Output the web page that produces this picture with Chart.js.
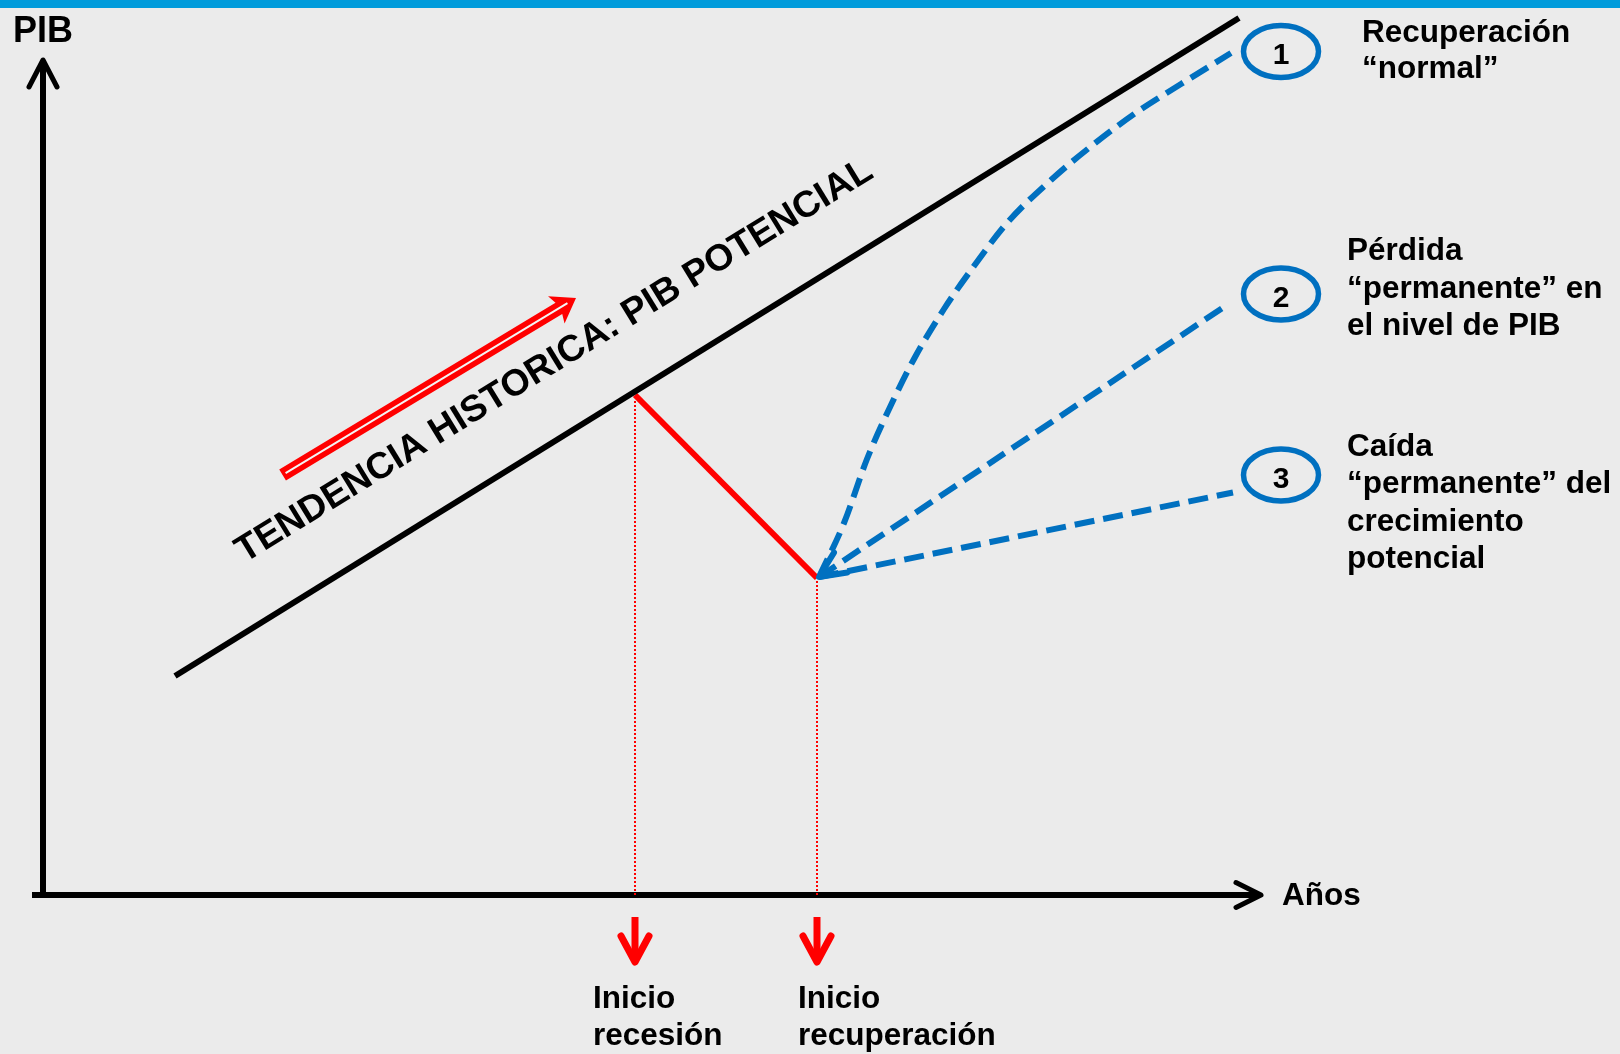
<!DOCTYPE html>
<html>
<head>
<meta charset="utf-8">
<title>PIB potencial y escenarios de recuperación</title>
<script src="https://cdn.jsdelivr.net/npm/chart.js@4.4.1/dist/chart.umd.min.js"></script>
<style>
  html, body { margin: 0; padding: 0; background: #ebebeb; }
  #wrap { position: relative; width: 1620px; height: 1054px; }
</style>
</head>
<body>
<div id="wrap"><canvas id="chart"></canvas></div>
<script>
// x = años, y = nivel de PIB (unidades arbitrarias)
const trendX = [6.6, 59.8];
const trendY = [21.9, 87.7];
const recessionX = [29.6, 38.7];
const recessionY = [50.0, 31.7];
const normalX = [38.8, 40.05, 41.2, 42.4, 43.55, 45.05, 46.55, 48.2, 50.4, 52.55, 54.7, 56.9, 59.4];
const normalY = [31.8, 37.2, 43.6, 49.0, 53.6, 58.6, 62.9, 67.2, 71.5, 75.1, 78.3, 81.1, 84.2];
const levelLossX = [38.8, 59.05];
const levelLossY = [31.8, 58.8];
const growthLossX = [38.8, 59.5];
const growthLossY = [31.8, 40.25];
const axisX = [-0.55, 60.8];
const axisY = [-0.3, 83.5];
const trendArrowX = [11.98, 26.65];
const trendArrowY = [42.0, 59.7];
const titleX = [10.08, 41.6];
const titleY = [33.18, 71.83];

const trendTitle = 'TENDENCIA HISTORICA: PIB POTENCIAL';
const scenarioNumbers = ['1', '2', '3'];
const scenarioLabels = [
  ['Recuperación', '“normal”'],
  ['Pérdida', '“permanente” en', 'el nivel de PIB'],
  ['Caída', '“permanente” del', 'crecimiento', 'potencial']
];
const eventLabels = [['Inicio', 'recesión'], ['Inicio', 'recuperación']];
const yTitle = 'PIB';
const xTitle = 'Años';

// layout (pixels)
const X_MIN = -2.15, X_MAX = 78.85;
const Y_MIN = -15.9, Y_MAX = 89.5;
const FONT = '"Liberation Sans", Arial, sans-serif';
const BLUE = '#0070c0';
const RED = '#ff0000';
const DASH = [20, 9];
const ellipseCx = 1281;
const ellipseCy = [51.5, 294, 475];
const labelPos = [
  { x: 1362, y: [42, 78] },
  { x: 1347, y: [260, 298, 335] },
  { x: 1347, y: [456, 493, 531, 568] }
];
const eventLabelX = [593, 798];
const eventLabelY = [1008, 1045];

function pts(xs, ys) {
  return xs.map((x, i) => ({ x: x, y: ys[i] }));
}

function line(data, color, width, dash) {
  return {
    data: data,
    showLine: true,
    borderColor: color,
    backgroundColor: color,
    borderWidth: width,
    borderDash: dash || [],
    pointRadius: 0,
    fill: false
  };
}

function chevron(ctx, tx, ty, ang, len, half, width, color) {
  const ux = Math.cos(ang), uy = Math.sin(ang);
  const nx = -uy, ny = ux;
  ctx.save();
  ctx.strokeStyle = color;
  ctx.lineWidth = width;
  ctx.lineCap = 'round';
  ctx.lineJoin = 'round';
  ctx.setLineDash([]);
  ctx.beginPath();
  ctx.moveTo(tx - ux * len + nx * half, ty - uy * len + ny * half);
  ctx.lineTo(tx, ty);
  ctx.lineTo(tx - ux * len - nx * half, ty - uy * len - ny * half);
  ctx.stroke();
  ctx.restore();
}

const decor = {
  id: 'decor',
  beforeDraw(chart) {
    const ctx = chart.ctx;
    ctx.save();
    ctx.fillStyle = '#ebebeb';
    ctx.fillRect(0, 0, chart.width, chart.height);
    ctx.fillStyle = '#009bdb';
    ctx.fillRect(0, 0, chart.width, 8);
    ctx.restore();
  },
  afterDatasetsDraw(chart) {
    const ctx = chart.ctx;
    const xs = chart.scales.x, ys = chart.scales.y;
    const px = v => xs.getPixelForValue(v);
    const py = v => ys.getPixelForValue(v);

    // axis arrowheads
    chevron(ctx, px(0), py(axisY[1]), -Math.PI / 2, 27, 14, 5, '#000');
    chevron(ctx, px(axisX[1]) + 2, py(0), 0, 25, 12.5, 5, '#000');

    // red arrows below the axis
    recessionX.forEach(v => {
      const x = px(v), top = py(0) + 22, tip = py(0) + 67;
      ctx.save();
      ctx.strokeStyle = RED;
      ctx.lineWidth = 7;
      ctx.lineCap = 'butt';
      ctx.beginPath();
      ctx.moveTo(x, top);
      ctx.lineTo(x, tip - 4);
      ctx.stroke();
      ctx.restore();
      chevron(ctx, x, tip, Math.PI / 2, 26, 14, 7, RED);
    });

    // hollow red trend arrow
    const ax0 = px(trendArrowX[0]), ay0 = py(trendArrowY[0]);
    const ax1 = px(trendArrowX[1]), ay1 = py(trendArrowY[1]);
    const ang = Math.atan2(ay1 - ay0, ax1 - ax0);
    const L = Math.hypot(ax1 - ax0, ay1 - ay0);
    ctx.save();
    ctx.translate(ax0, ay0);
    ctx.rotate(ang);
    ctx.fillStyle = RED;
    ctx.beginPath();
    ctx.moveTo(0, -6.5);
    ctx.lineTo(L - 20, -6.5);
    ctx.lineTo(L - 23, -16);
    ctx.lineTo(L, 0);
    ctx.lineTo(L - 23, 16);
    ctx.lineTo(L - 20, 6.5);
    ctx.lineTo(0, 6.5);
    ctx.closePath();
    ctx.fill();
    ctx.strokeStyle = '#f4f4f4';
    ctx.lineWidth = 2;
    ctx.beginPath();
    ctx.moveTo(3.5, 0);
    ctx.lineTo(L - 10, 0);
    ctx.stroke();
    ctx.restore();

    // arrowhead at the start of scenario 2
    const sx = px(levelLossX[0]), sy = py(levelLossY[0]);
    const ex = px(levelLossX[1]), ey = py(levelLossY[1]);
    const a2 = Math.atan2(sy - ey, sx - ex);
    chevron(ctx, sx, sy, a2, 26, 12, 6, BLUE);

    // ellipses with numbers
    ellipseCy.forEach((cy, i) => {
      ctx.save();
      ctx.strokeStyle = BLUE;
      ctx.lineWidth = 5.5;
      ctx.beginPath();
      ctx.ellipse(ellipseCx, cy, 37.5, 26, 0, 0, Math.PI * 2);
      ctx.stroke();
      ctx.fillStyle = '#000';
      ctx.font = 'bold 30px ' + FONT;
      ctx.textAlign = 'center';
      ctx.textBaseline = 'alphabetic';
      ctx.fillText(scenarioNumbers[i], ellipseCx, cy + 12.5);
      ctx.restore();
    });

    // texts
    ctx.save();
    ctx.fillStyle = '#000';
    ctx.textBaseline = 'alphabetic';
    ctx.textAlign = 'left';
    ctx.font = 'bold 36px ' + FONT;
    ctx.fillText(yTitle, 13, 42);
    ctx.font = 'bold 31.5px ' + FONT;
    ctx.fillText(xTitle, 1282, 905);
    scenarioLabels.forEach((lines, i) => {
      lines.forEach((t, j) => ctx.fillText(t, labelPos[i].x, labelPos[i].y[j]));
    });
    eventLabels.forEach((lines, i) => {
      lines.forEach((t, j) => ctx.fillText(t, eventLabelX[i], eventLabelY[j]));
    });

    // rotated title along the trend
    const tx0 = px(titleX[0]), ty0 = py(titleY[0]);
    const tx1 = px(titleX[1]), ty1 = py(titleY[1]);
    const tAng = Math.atan2(ty1 - ty0, tx1 - tx0);
    const tLen = Math.hypot(tx1 - tx0, ty1 - ty0);
    ctx.font = 'bold 100px ' + FONT;
    const w100 = ctx.measureText(trendTitle).width;
    const size = 100 * tLen / w100;
    ctx.font = 'bold ' + size.toFixed(2) + 'px ' + FONT;
    ctx.translate(tx0, ty0);
    ctx.rotate(tAng);
    ctx.fillText(trendTitle, 0, 0);
    ctx.restore();
  }
};

new Chart(document.getElementById('chart'), {
  type: 'scatter',
  data: {
    datasets: [
      line(pts([recessionX[0], recessionX[0]], [0, recessionY[0] - 0.5]), RED, 2, [2, 2]),
      line(pts([recessionX[1], recessionX[1]], [0, recessionY[1] - 0.3]), RED, 2, [2, 2]),
      line(pts([0, 0], axisY), '#000', 6),
      line(pts(axisX, [0, 0]), '#000', 6),
      line(pts(trendX, trendY), '#000', 6),
      line(pts(recessionX, recessionY), RED, 6),
      Object.assign(line(pts(normalX, normalY), BLUE, 6, DASH), { cubicInterpolationMode: 'monotone', tension: 0.4 }),
      line(pts(levelLossX, levelLossY), BLUE, 6, DASH),
      line(pts(growthLossX, growthLossY), BLUE, 6, DASH)
    ]
  },
  options: {
    responsive: true,
    maintainAspectRatio: false,
    animation: false,
    events: [],
    layout: { padding: 0 },
    plugins: { legend: { display: false }, tooltip: { enabled: false } },
    scales: {
      x: { type: 'linear', min: X_MIN, max: X_MAX, display: false },
      y: { type: 'linear', min: Y_MIN, max: Y_MAX, display: false }
    },
    elements: { point: { radius: 0 } }
  },
  plugins: [decor]
});
</script>
</body>
</html>
